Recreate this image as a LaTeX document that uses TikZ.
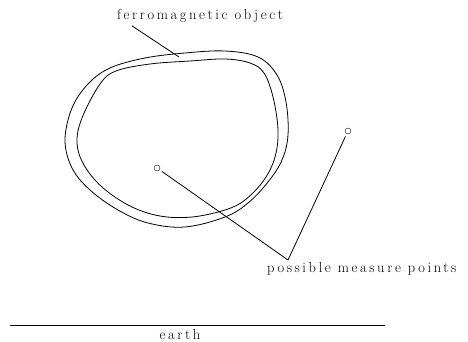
\documentclass[tikz,border=0pt]{standalone}
\usepackage{fontspec}
\setmainfont{Latin Modern Roman}[LetterSpace=18]
\usepackage{tikz}
\usetikzlibrary{positioning}
\tikzset{
  lbl/.style={inner sep=0pt, font=\fontsize{14.5}{16}\selectfont},
  mpoint/.style={circle, draw, inner sep=0pt, minimum size=6pt, outer sep=3pt},
  edge/.style={line width=0.8pt}
}

\begin{document}
\begin{tikzpicture}[x=1pt, y=-1pt, line join=round]
      \useasboundingbox (0,0) rectangle (468,342);
      \draw[edge] plot[smooth cycle, tension=0.6] coordinates {
        (65,140) (72,108) (88,84) (110,68) (145,58) (185,53) (225,51) (258,57)
        (277,75) (286,102) (288,135) (282,160) (268,182) (248,203) (225,217)
        (185,227) (148,223) (118,210) (90,190) (72,168)};
      \draw[edge] plot[smooth cycle, tension=0.6] coordinates {
        (77,143) (82,118) (100,84) (116,71) (150,64) (190,61) (225,59) (250,63)
        (264,73) (273,97) (278,130) (275,157) (264,180) (245,200) (225,210)
        (192,217) (160,216) (130,206) (102,187) (84,165)};
      \node[lbl] (object) at (200,16) {ferromagnetic object};
      \coordinate (objedge) at (179,57);
      \draw[edge] (object.south west) ++(15,3) coordinate (objtail) -- (objedge);
      \node[mpoint] (mp1) at (157,168) {};
      \node[mpoint] (mp2) at (348,131) {};
      \coordinate (junc) at (288,260);
      \node[lbl, anchor=north west] (measure) at (267,262) {possible measure points};
      \draw[edge] (mp1) -- (junc) -- (mp2);
      \coordinate (ground1) at (10,325);
      \coordinate (ground2) at (385,325);
      \draw[edge] (ground1) -- (ground2);
      \node[lbl, anchor=north] (earth) at (180,329) {earth};
\end{tikzpicture}
\end{document}
